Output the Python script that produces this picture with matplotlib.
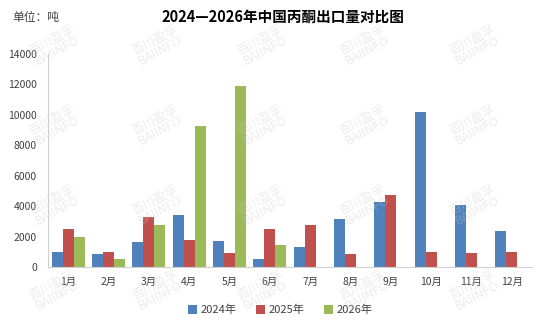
import numpy as np
import matplotlib.pyplot as plt

plt.rcParams['font.family'] = ['Noto Sans CJK SC', 'DejaVu Sans']

months = ["1月", "2月", "3月", "4月", "5月", "6月", "7月", "8月", "9月", "10月", "11月", "12月"]
v2024 = [1000, 870, 1660, 3430, 1730, 550, 1350, 3190, 4310, 10210, 4110, 2400]
v2025 = [2510, 1000, 3300, 1790, 940, 2510, 2800, 900, 4770, 1030, 960, 1030]
v2026 = [1990, 550, 2780, 9270, 11900, 1470, np.nan, np.nan, np.nan, np.nan, np.nan, np.nan]

fig = plt.figure(figsize=(5.49, 3.29), dpi=100)
ax = fig.add_axes([0.0874, 0.1875, 0.8816, 0.6485])

x = np.arange(len(months))
w = 0.275
ax.bar(x - w, v2024, w, color="#4F81BD", label="2024年")
ax.bar(x, v2025, w, color="#C0504D", label="2025年")
ax.bar(x + w, v2026, w, color="#9BBB59", label="2026年")

ax.set_xlim(-0.5, 11.5)
ax.set_ylim(0, 14000)
ax.set_yticks(range(0, 14001, 2000))
ax.set_xticks(x)
ax.set_xticklabels(months)
ax.tick_params(axis="both", length=0, labelsize=7.5, colors="#404040")
ax.tick_params(axis="y", pad=8)
ax.tick_params(axis="x", pad=7)
for s in ["top", "right"]:
    ax.spines[s].set_visible(False)
for s in ["left", "bottom"]:
    ax.spines[s].set_color("#D0D0D0")

# watermark
for wx in [55, 158, 263, 365, 475]:
    for wy in [45, 125, 205, 290]:
        fig.text(wx / 549, 1 - wy / 329, "百川盈孚\nBAIINFO", color="#C8C8C8", alpha=0.35,
                 fontsize=9, rotation=28, ha="center", va="center", linespacing=0.9,
                 zorder=0)

fig.text(0.022, 0.948, "单位：吨", fontsize=8.5, color="#404040", va="center")
fig.text(0.515, 0.948, "2024—2026年中国丙酮出口量对比图", fontsize=10.5, fontweight="bold",
         ha="center", va="center")

ax.legend(loc="upper center", bbox_to_anchor=(0.48, -0.13), ncol=3, frameon=False,
          fontsize=8, handlelength=0.8, handleheight=0.8, columnspacing=1.8,
          handletextpad=0.3, labelcolor="#404040")

fig.savefig("out.png", dpi=100)
